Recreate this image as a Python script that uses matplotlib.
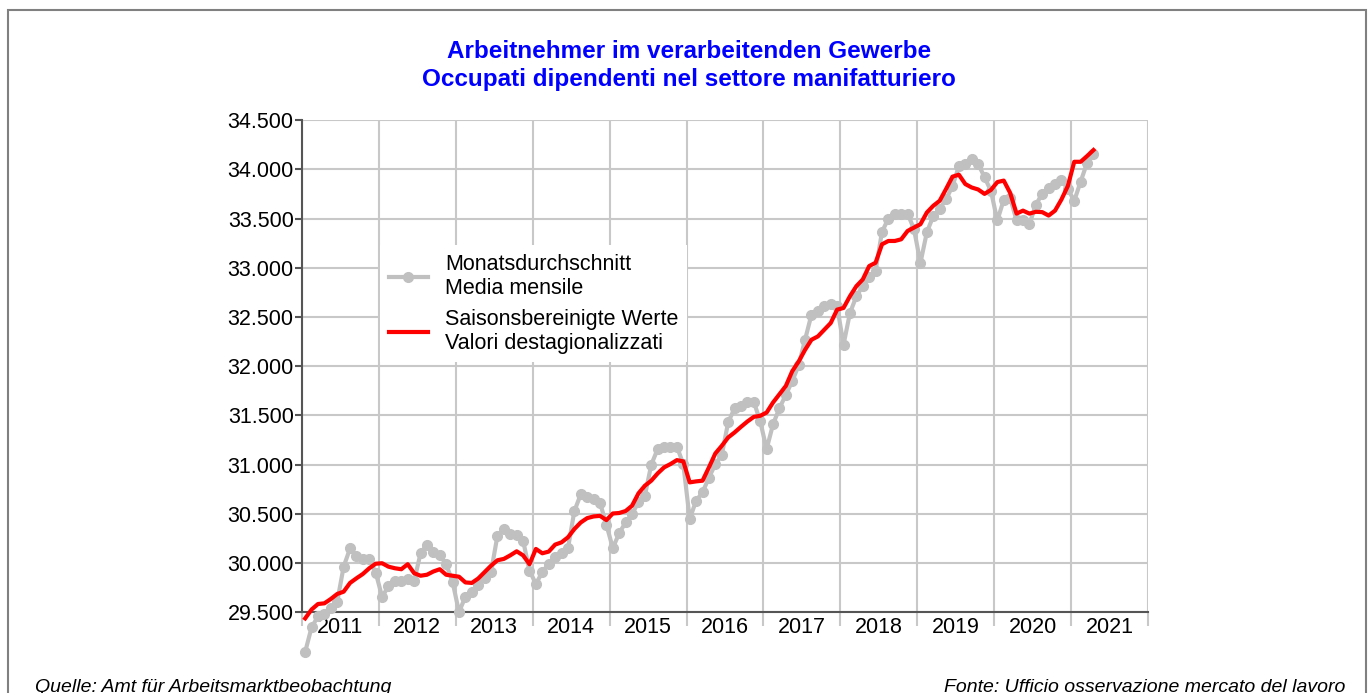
import matplotlib
matplotlib.use("Agg")
import matplotlib.pyplot as plt
from matplotlib.ticker import FixedLocator, FuncFormatter
from matplotlib.patches import Rectangle

plt.rcParams['font.family'] = ['Liberation Sans', 'DejaVu Sans']

years = ['2011', '2012', '2013', '2014', '2015', '2016',
         '2017', '2018', '2019', '2020', '2021']

# Monatsdurchschnitt / Media mensile (Jan 2011 - Apr 2021)
monthly = [
    29100, 29350, 29460, 29480, 29550, 29610, 29965, 30150, 30070, 30040, 30040, 29905,
    29660, 29765, 29815, 29820, 29840, 29820, 30100, 30190, 30110, 30080, 29990, 29810,
    29505, 29660, 29710, 29775, 29845, 29910, 30280, 30345, 30295, 30290, 30230, 29925,
    29790, 29910, 29995, 30060, 30100, 30150, 30530, 30700, 30675, 30650, 30615, 30390,
    30155, 30305, 30415, 30500, 30620, 30685, 31000, 31160, 31185, 31185, 31185, 31005,
    30450, 30635, 30720, 30870, 31005, 31100, 31430, 31575, 31600, 31640, 31640, 31440,
    31160, 31410, 31575, 31710, 31850, 32010, 32270, 32525, 32560, 32610, 32635, 32610,
    32220, 32540, 32710, 32815, 32905, 32970, 33365, 33500, 33545, 33545, 33550, 33390,
    33050, 33360, 33525, 33600, 33695, 33830, 34030, 34055, 34100, 34055, 33920, 33780,
    33480, 33690, 33710, 33480, 33480, 33440, 33640, 33750, 33805, 33855, 33890, 33800,
    33680, 33875, 34065, 34160,
]

# Saisonsbereinigte Werte / Valori destagionalizzati
adjusted = [
    29440, 29530, 29586, 29593, 29637, 29688, 29711, 29800, 29847, 29891, 29949, 29995,
    30000, 29965, 29949, 29939, 29990, 29899, 29873, 29883, 29916, 29939, 29883, 29873,
    29863, 29805, 29800, 29845, 29910, 29975, 30030, 30044, 30080, 30121, 30080, 29990,
    30145, 30101, 30118, 30189, 30212, 30263, 30347, 30414, 30458, 30475, 30481, 30438,
    30505, 30510, 30530, 30584, 30709, 30787, 30838, 30912, 30973, 31007, 31047, 31034,
    30821, 30831, 30838, 30973, 31115, 31192, 31277, 31328, 31385, 31439, 31486, 31497,
    31530, 31632, 31716, 31800, 31950, 32048, 32167, 32269, 32303, 32371, 32439, 32575,
    32592, 32711, 32813, 32881, 33017, 33051, 33238, 33272, 33272, 33289, 33374, 33408,
    33442, 33561, 33629, 33680, 33800, 33925, 33945, 33850, 33815, 33795, 33750, 33790,
    33870, 33885, 33760, 33550, 33580, 33550, 33568, 33565, 33530, 33580, 33693, 33830,
    34076, 34076, 34134, 34195,
]

x_gray = [i + 0.5 for i in range(len(monthly))]
x_red = [i + 0.5 for i in range(len(adjusted))]

fig = plt.figure(figsize=(13.72, 6.93), dpi=100)
ax = fig.add_axes([0.2201, 0.1162, 0.6166, 0.7106])

ax.plot(x_gray, monthly, color='#c0c0c0', linewidth=3, marker='o', markersize=7,
        clip_on=False, zorder=3,
        label='Monatsdurchschnitt\nMedia mensile')
ax.plot(x_red, adjusted, color='#ff0000', linewidth=3, clip_on=False, zorder=4,
        label='Saisonsbereinigte Werte\nValori destagionalizzati')

ax.set_xlim(0, 12 * len(years))
ax.set_ylim(29500, 34500)

ax.xaxis.set_major_locator(FixedLocator([12 * k for k in range(len(years) + 1)]))
ax.xaxis.set_minor_locator(FixedLocator([12 * k + 6 for k in range(len(years))]))
ax.xaxis.set_major_formatter(FuncFormatter(lambda v, p: ''))
ax.set_xticklabels(years, minor=True)
ax.tick_params(axis='x', which='major', length=10, color='#c8c8c8', width=1.5)
ax.tick_params(axis='x', which='minor', length=0, labelsize=15.5, pad=3)

ax.set_yticks(range(29500, 34501, 500))
ax.yaxis.set_major_formatter(FuncFormatter(lambda v, p: f'{v:,.0f}'.replace(',', '.')))
ax.tick_params(axis='y', length=5, color='#555555', width=1.5, labelsize=15.5, pad=1)

ax.grid(True, color='#c8c8c8', linewidth=1.5)
ax.set_axisbelow(True)
for s in ['top', 'right']:
    ax.spines[s].set_visible(False)
for s in ['left', 'bottom']:
    ax.spines[s].set_color('#555555')
    ax.spines[s].set_linewidth(1.5)

leg = ax.legend(loc='upper left', bbox_to_anchor=(0.080, 0.768), fontsize=15.5,
                frameon=True, framealpha=1, facecolor='white', edgecolor='none',
                handlelength=1.8, handletextpad=0.8, labelspacing=0.45,
                fancybox=False, borderpad=0.4)
leg.set_zorder(5)

fig.text(0.5025, 0.926, 'Arbeitnehmer im verarbeitenden Gewerbe',
         ha='center', va='center', color='#0000ff', fontsize=17.5, fontweight='bold')
fig.text(0.5025, 0.886, 'Occupati dipendenti nel settore manifatturiero',
         ha='center', va='center', color='#0000ff', fontsize=17.5, fontweight='bold')

fig.text(35 / 1372, 6 / 693, 'Quelle: Amt für Arbeitsmarktbeobachtung',
         ha='left', va='center', fontsize=14, style='italic')
fig.text(1345 / 1372, 6 / 693, 'Fonte: Ufficio osservazione mercato del lavoro',
         ha='right', va='center', fontsize=14, style='italic')

fig.patches.append(Rectangle((8 / 1372, -0.05), 1358 / 1372, 1.05 - 10 / 693,
                             transform=fig.transFigure, fill=False,
                             edgecolor='#808080', linewidth=1.5))

fig.savefig('out.png', dpi=100)
